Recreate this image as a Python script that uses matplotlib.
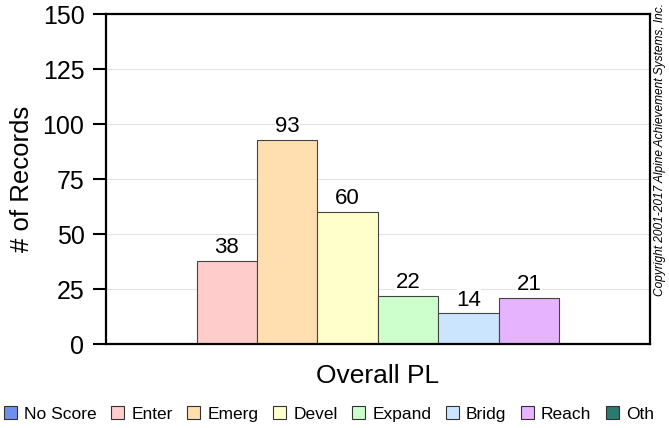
import matplotlib
matplotlib.use('Agg')
import matplotlib.pyplot as plt
from matplotlib.patches import Patch

# Performance level counts
levels = ['No Score', 'Enter', 'Emerg', 'Devel', 'Expand', 'Bridg', 'Reach', 'Oth']
counts = [0, 38, 93, 60, 22, 14, 21, 0]
colors = ['#6f8ff0', '#ffcccc', '#ffdfb0', '#ffffcc', '#ccffcc', '#cce5ff', '#e6b3ff', '#2a7a6e']
yticks = [0, 25, 50, 75, 100, 125, 150]

plt.rcParams['font.family'] = ['Liberation Sans', 'DejaVu Sans']

fig = plt.figure(figsize=(6.69, 4.28), dpi=100)
ax = fig.add_axes([0.1584, 0.196, 0.813, 0.771])

positions = list(range(1, len(levels) + 1))
for pos, val, col in zip(positions, counts, colors):
    if val == 0:
        continue
    ax.bar(pos, val, width=1.0, color=col, edgecolor='#444444', linewidth=0.8, zorder=2)
    ax.text(pos, val + 1.2, str(val), ha='center', va='bottom', fontsize=16,
            bbox=dict(facecolor='white', edgecolor='none', pad=0.3), zorder=3)

ax.set_xlim(0, 9)
ax.set_ylim(0, 150)
ax.set_yticks(yticks)
ax.set_yticklabels([str(t) for t in yticks], fontsize=18)
ax.set_xticks([])
ax.yaxis.grid(True, color='#e2e2e2', linewidth=0.8, zorder=0)
ax.set_axisbelow(True)
ax.tick_params(axis='y', direction='out', length=9.5, width=1.5, pad=6)
for sp in ax.spines.values():
    sp.set_linewidth(1.6)
    sp.set_color('black')

ax.set_ylabel('# of Records', fontsize=18.5, labelpad=6)
ax.set_xlabel('Overall PL', fontsize=19, labelpad=14)

fig.text(0.987, 0.65, 'Copyright 2001-2017 Alpine Achievement Systems, Inc.',
         rotation=90, fontsize=8.6, style='italic', ha='center', va='center')

handles = [Patch(facecolor=c, edgecolor='#333333', linewidth=0.8) for c in colors]
fig.legend(handles, levels, loc='center left', bbox_to_anchor=(0.006, 0.033),
           ncol=len(levels), frameon=False, fontsize=12.5, handlelength=0.75,
           handleheight=0.75, handletextpad=0.4, columnspacing=0.85, borderaxespad=0,
           borderpad=0)

fig.savefig('out.png', dpi=100)
